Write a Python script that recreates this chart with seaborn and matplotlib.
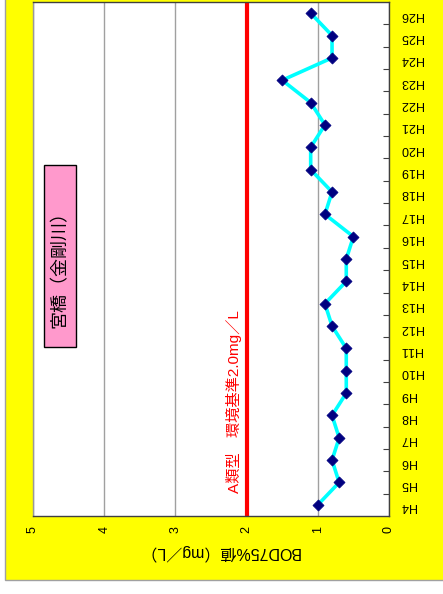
import numpy as np
import pandas as pd
import matplotlib
matplotlib.use("Agg")
import matplotlib.pyplot as plt
from matplotlib.patches import Rectangle
import seaborn as sns

# BOD 75% values by fiscal year (Heisei era)
years = ["H4", "H5", "H6", "H7", "H8", "H9", "H10", "H11", "H12", "H13", "H14", "H15",
         "H16", "H17", "H18", "H19", "H20", "H21", "H22", "H23", "H24", "H25", "H26"]
bod75 = [1.0, 0.7, 0.8, 0.7, 0.8, 0.6, 0.6, 0.6, 0.8, 0.9, 0.6, 0.6,
         0.5, 0.9, 0.8, 1.1, 1.1, 0.9, 1.1, 1.5, 0.8, 0.8, 1.1]
standard = 2.0
value_ticks = [0, 1, 2, 3, 4, 5]

station_label = "宮橋（金剛川）"
standard_label = "A類型　環境基準2.0mg／L"
axis_label = "BOD75%値（mg／L）"

sns.set_theme(style="white")
plt.rcParams["font.family"] = ["Liberation Sans", "Noto Sans CJK JP", "DejaVu Sans"]

W, H = 443, 594
fig = plt.figure(figsize=(W / 100, H / 100), dpi=100)
fig.patch.set_facecolor("white")

# yellow chart background
fig.patches.append(Rectangle((5 / W, 14 / H), 1.0, 1.0, transform=fig.transFigure,
                             facecolor="#FFFF00", edgecolor="#A0A0A0", lw=1, zorder=-1))

ax = fig.add_axes([33 / W, (H - 516) / H, 356 / W, 514 / H])
ax.set_facecolor("white")

df = pd.DataFrame({"year": years, "bod": bod75, "pos": np.arange(len(years))})

# series runs along the vertical year axis
sns.lineplot(data=df, x="bod", y="pos", orient="y", estimator=None, sort=True,
             color="#00FFFF", lw=2.6, ax=ax, zorder=3)
sns.scatterplot(data=df, x="bod", y="pos", marker="D", s=32, color="#000080",
                edgecolor="#000080", linewidth=0.5, ax=ax, zorder=4)

ax.axvline(standard, color="#FF0000", lw=3, zorder=2)

ax.set_xlim(max(value_ticks), min(value_ticks))
ax.set_ylim(-0.5, len(years) - 0.5)

# value axis
ax.set_xticks(value_ticks)
ax.set_xticklabels([str(v) for v in value_ticks], rotation=90, fontsize=9)
ax.tick_params(axis="x", which="major", bottom=True, length=0, pad=7,
               labelcolor="black")
ax.xaxis.grid(True, color="#A0A0A0", lw=1)
ax.yaxis.grid(False)
ax.set_axisbelow(True)

# year axis on the right, ticks between categories
ax.set_yticks(df["pos"])
ax.set_yticklabels(years, rotation=180, fontsize=9)
ax.yaxis.tick_right()
ax.tick_params(axis="y", which="major", length=0, pad=8, labelright=True, labelleft=False,
               labelcolor="black")
ax.set_yticks(np.arange(0.5, len(years) - 1, 1.0), minor=True)
ax.tick_params(axis="y", which="minor", right=True, left=False, direction="in",
               length=4, width=0.8, color="#404040")

ax.set_ylabel("")
xl = ax.set_xlabel(axis_label, rotation=180, fontsize=11.5, color="black")
xl.set_va("center")
ax.xaxis.set_label_coords(0.522, -0.070)

for side, sp in ax.spines.items():
    sp.set_visible(True)
    sp.set_linewidth(1)
    sp.set_color("#404040")
ax.spines["left"].set_color("#999999")

# environmental standard label
ax.text(2.18, 4.6, standard_label, rotation=90, color="#FF0000", fontsize=11,
        ha="center", va="center", zorder=5)

# station name box
ax.add_patch(Rectangle((44 / W, (H - 347) / H), 32 / W, 182 / H, transform=fig.transFigure,
                       facecolor="#FF99CC", edgecolor="black", lw=1, zorder=5))
ax.text(60 / W, (H - 265) / H, station_label, transform=fig.transFigure, rotation=90,
        fontsize=13, ha="center", va="center", color="black", zorder=6)

fig.savefig("out.png", dpi=100)
